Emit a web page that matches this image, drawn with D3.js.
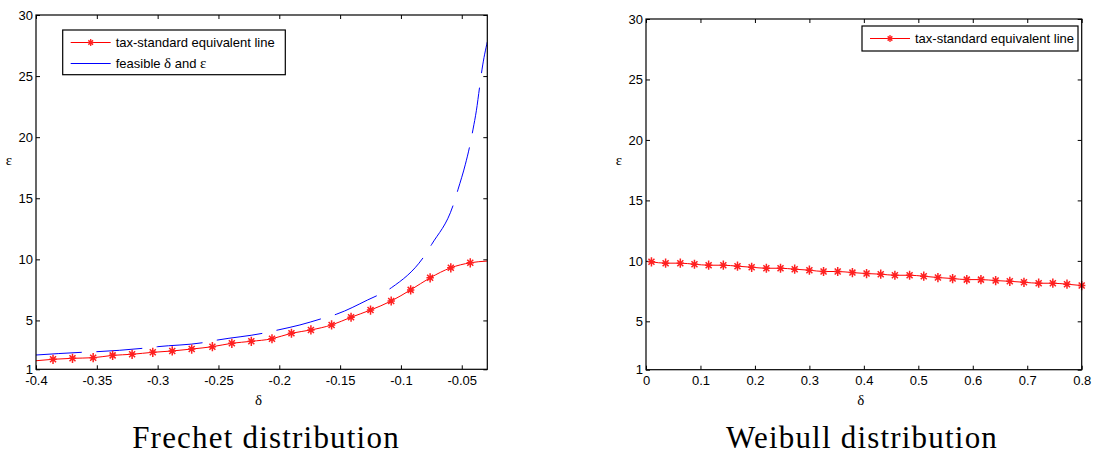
<!DOCTYPE html>
<html>
<head>
<meta charset="utf-8">
<script src="https://cdn.jsdelivr.net/npm/d3@7"></script>
<style>
  body { margin: 0; background: #fff; }
  svg { display: block; }
  .tick text { font-family: "Liberation Sans", Arial, sans-serif; font-size: 13px; fill: #000; }
  .tick line { stroke: #000; }
  .legend text { font-family: "Liberation Sans", Arial, sans-serif; font-size: 13px; }
</style>
</head>
<body>
<div id="chart"></div>
<script>
// Frechet panel: red line (first/last points are the axis edges, no marker there)
var frechetDelta = [-0.4, -0.386, -0.370, -0.353, -0.337, -0.321, -0.304, -0.288, -0.272, -0.255, -0.239,
  -0.223, -0.206, -0.190, -0.174, -0.157, -0.141, -0.125, -0.108, -0.092, -0.076, -0.059, -0.043, -0.029];
var frechetEps = [1.70, 1.82, 1.90, 1.95, 2.14, 2.23, 2.39, 2.50, 2.66, 2.85, 3.13,
  3.29, 3.50, 3.95, 4.22, 4.63, 5.26, 5.85, 6.59, 7.50, 8.49, 9.31, 9.72, 9.86];

// Frechet panel: blue dashed "feasible" curve
var feasibleDelta = [-0.400, -0.3625, -0.3504, -0.3121, -0.3002, -0.2627, -0.2505, -0.2135, -0.201, -0.183,
  -0.166, -0.1527, -0.1275, -0.1078, -0.0808, -0.0747, -0.057, -0.053, -0.047, -0.0434, -0.0407, -0.038,
  -0.0352, -0.0333, -0.029];
var feasibleEps = [2.17, 2.39, 2.44, 2.72, 2.85, 3.18, 3.40, 3.95, 4.22, 4.63,
  5.12, 5.52, 6.67, 7.68, 10.27, 11.23, 14.45, 15.74, 17.79, 19.29, 20.66, 22.16,
  24.2, 25.57, 27.8];

// Weibull panel
var weibullDelta = [0.010, 0.036, 0.063, 0.089, 0.115, 0.142, 0.168, 0.194, 0.221, 0.247, 0.273,
  0.300, 0.326, 0.352, 0.379, 0.405, 0.431, 0.457, 0.484, 0.510, 0.536, 0.563, 0.589, 0.615,
  0.642, 0.668, 0.694, 0.721, 0.747, 0.773, 0.800];
var weibullEps = [9.92, 9.81, 9.81, 9.72, 9.64, 9.64, 9.56, 9.47, 9.39, 9.39, 9.31,
  9.23, 9.12, 9.12, 9.03, 8.95, 8.90, 8.81, 8.81, 8.73, 8.62, 8.54, 8.45, 8.45,
  8.37, 8.31, 8.23, 8.15, 8.15, 8.07, 7.96];

// tick labels
var frechetTicks = [-0.4, -0.35, -0.3, -0.25, -0.2, -0.15, -0.1, -0.05];
var weibullTicks = [0, 0.1, 0.2, 0.3, 0.4, 0.5, 0.6, 0.7, 0.8];
var epsTicks = [1, 5, 10, 15, 20, 25, 30];

var lineLabel = "tax-standard equivalent line";
var titles = ["Frechet distribution", "Weibull distribution"];

var svg = d3.select("#chart").append("svg")
  .attr("width", 1093)
  .attr("height", 457);

// matlab style '*' marker: plus + cross
var star = {
  draw: function(ctx, size) {
    var r = Math.sqrt(size) / 2;
    var h = r * 0.8, d = r * 0.65;
    ctx.moveTo(0, -r); ctx.lineTo(0, r);
    ctx.moveTo(-h, 0); ctx.lineTo(h, 0);
    ctx.moveTo(-d, -d); ctx.lineTo(d, d);
    ctx.moveTo(-d, d); ctx.lineTo(d, -d);
  }
};

function fmt(d) { return String(d); }

function drawPanel(opt) {
  var x = d3.scaleLinear().domain(opt.xDomain).range([opt.left, opt.right]);
  var y = d3.scaleLinear().domain([1, 30]).range([opt.bottom, opt.top]);
  var g = svg.append("g");

  var clipId = "clip" + opt.id;
  svg.append("clipPath").attr("id", clipId)
    .append("rect")
    .attr("x", opt.left).attr("y", opt.top)
    .attr("width", opt.right - opt.left).attr("height", opt.bottom - opt.top);

  // axes, ticks pointing inwards on all four sides
  g.append("g")
    .attr("transform", "translate(0," + opt.bottom + ")")
    .call(d3.axisBottom(x).tickValues(opt.xTicks).tickFormat(fmt).tickSize(-4).tickSizeOuter(0).tickPadding(6))
    .call(a => a.select(".domain").remove());
  g.append("g")
    .attr("transform", "translate(0," + opt.top + ")")
    .call(d3.axisTop(x).tickValues(opt.xTicks).tickFormat("").tickSize(-4).tickSizeOuter(0))
    .call(a => a.select(".domain").remove());
  g.append("g")
    .attr("transform", "translate(" + opt.left + ",0)")
    .call(d3.axisLeft(y).tickValues(epsTicks).tickFormat(fmt).tickSize(-4).tickSizeOuter(0).tickPadding(3))
    .call(a => a.select(".domain").remove());
  g.append("g")
    .attr("transform", "translate(" + opt.right + ",0)")
    .call(d3.axisRight(y).tickValues(epsTicks).tickFormat("").tickSize(-4).tickSizeOuter(0))
    .call(a => a.select(".domain").remove());

  var plot = g.append("g").attr("clip-path", "url(#" + clipId + ")");

  if (opt.blueX) {
    var blueLine = d3.line()
      .x((d, i) => x(opt.blueX[i]))
      .y(d => y(d))
      .curve(d3.curveMonotoneX);
    plot.append("path")
      .attr("d", blueLine(opt.blueY))
      .attr("fill", "none")
      .attr("stroke", "#0000ff")
      .attr("stroke-width", 1)
      .attr("stroke-dasharray", "46,14.5");
  }

  var redLine = d3.line()
    .x((d, i) => x(opt.redX[i]))
    .y(d => y(d))
    .curve(d3.curveMonotoneX);
  plot.append("path")
    .attr("d", redLine(opt.redY))
    .attr("fill", "none")
    .attr("stroke", "#ff0000")
    .attr("stroke-width", 1);

  var mx = opt.markerSlice ? opt.redX.slice(1, -1) : opt.redX;
  var my = opt.markerSlice ? opt.redY.slice(1, -1) : opt.redY;
  g.selectAll(".mk" + opt.id)
    .data(my)
    .enter().append("path")
    .attr("transform", (d, i) => "translate(" + x(mx[i]) + "," + y(d) + ")")
    .attr("d", d3.symbol().type(star).size(85))
    .attr("fill", "none")
    .attr("stroke", "#ff2020")
    .attr("stroke-width", 1.5);

  // box
  g.append("rect")
    .attr("x", opt.left).attr("y", opt.top)
    .attr("width", opt.right - opt.left).attr("height", opt.bottom - opt.top)
    .attr("fill", "none").attr("stroke", "#000").attr("stroke-width", 1.2);

  // axis labels
  g.append("text")
    .attr("x", (opt.left + opt.right) / 2 - 3).attr("y", 405)
    .attr("text-anchor", "middle")
    .style("font-family", "'Liberation Serif', serif").style("font-size", "15px")
    .text("δ");
  g.append("text")
    .attr("x", opt.left - 27).attr("y", 165)
    .attr("text-anchor", "middle")
    .style("font-family", "'Liberation Serif', serif").style("font-size", "15px")
    .text("ε");

  // legend
  var lg = g.append("g").attr("class", "legend");
  var L = opt.legend;
  lg.append("rect")
    .attr("x", L.x).attr("y", L.y).attr("width", L.w).attr("height", L.h)
    .attr("fill", "#fff").attr("stroke", "#000").attr("stroke-width", 1.2);
  lg.append("line")
    .attr("x1", L.x + 8).attr("x2", L.x + 48).attr("y1", L.y + 12.5).attr("y2", L.y + 12.5)
    .attr("stroke", "#ff0000");
  lg.append("path")
    .attr("transform", "translate(" + (L.x + 28) + "," + (L.y + 12.5) + ")")
    .attr("d", d3.symbol().type(star).size(50))
    .attr("fill", "none").attr("stroke", "#ff2020").attr("stroke-width", 1.3);
  lg.append("text")
    .attr("x", L.x + 53).attr("y", L.y + 17)
    .text(lineLabel);
  if (opt.blueX) {
    lg.append("line")
      .attr("x1", L.x + 8).attr("x2", L.x + 48).attr("y1", L.y + 33.5).attr("y2", L.y + 33.5)
      .attr("stroke", "#0000ff");
    var t = lg.append("text").attr("x", L.x + 53).attr("y", L.y + 38);
    t.append("tspan").text("feasible ");
    t.append("tspan").style("font-family", "'Liberation Serif', serif").style("font-size", "15px").text("δ");
    t.append("tspan").text(" and ");
    t.append("tspan").style("font-family", "'Liberation Serif', serif").style("font-size", "15px").text("ε");
  }

  // panel title underneath
  svg.append("text")
    .attr("x", opt.titleX).attr("y", 448)
    .attr("text-anchor", "middle")
    .style("font-family", "'Liberation Serif', serif").style("font-size", "31px")
    .style("letter-spacing", "1.2px")
    .text(opt.title);
}

drawPanel({
  id: 1, left: 36, right: 487.3, top: 15, bottom: 369.3,
  xDomain: [-0.4, -0.029], xTicks: frechetTicks,
  redX: frechetDelta, redY: frechetEps, markerSlice: true,
  blueX: feasibleDelta, blueY: feasibleEps,
  legend: { x: 62.7, y: 30, w: 222.6, h: 44.7 },
  title: titles[0], titleX: 266
});

drawPanel({
  id: 2, left: 646, right: 1081.7, top: 19, bottom: 369.7,
  xDomain: [0, 0.8], xTicks: weibullTicks,
  redX: weibullDelta, redY: weibullEps, markerSlice: false,
  legend: { x: 862, y: 26, w: 216, h: 25 },
  title: titles[1], titleX: 862
});
</script>
</body>
</html>
